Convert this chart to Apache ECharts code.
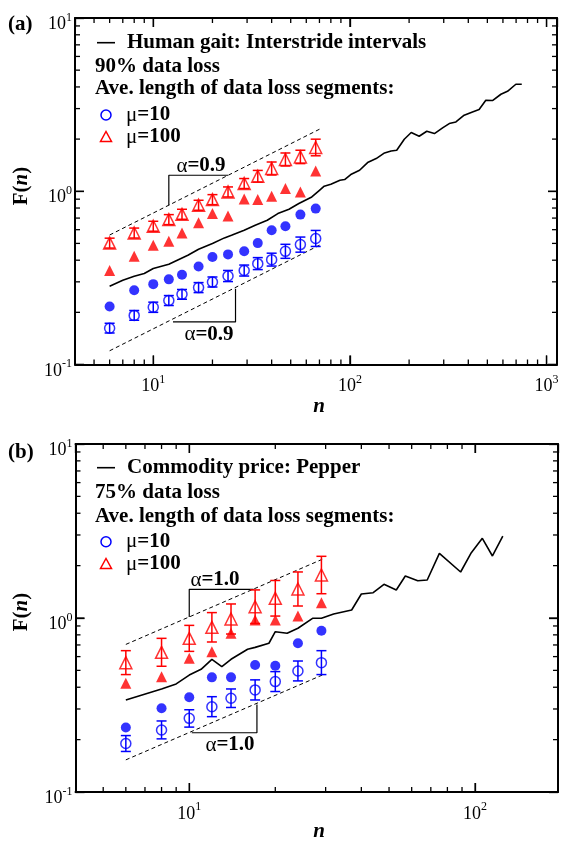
<!DOCTYPE html>
<html><head><meta charset="utf-8">
<script src="https://cdn.jsdelivr.net/npm/echarts@6/dist/echarts.min.js"></script>
<style>html,body{margin:0;padding:0;background:#fff}#c{width:562px;height:842px}</style>
</head><body><div id="c"></div>
<script>
// ---------- Panel (a): Human gait, 90% data loss ----------
const nA = [6, 8, 10, 12, 14, 17, 20, 24, 29, 34, 40, 47, 56, 67];
const aFilledCircle = [0.216, 0.268, 0.291, 0.310, 0.330, 0.368, 0.417, 0.432, 0.450, 0.502, 0.595, 0.628, 0.733, 0.794];
const aFilledTri = [0.349, 0.421, 0.488, 0.514, 0.574, 0.659, 0.743, 0.720, 0.903, 0.895, 0.936, 1.037, 0.991, 1.31];
const aOpenCircle = [0.162, 0.192, 0.214, 0.234, 0.254, 0.278, 0.299, 0.324, 0.349, 0.382, 0.403, 0.450, 0.492, 0.534];
const aOpenCircleLo = [0.152, 0.180, 0.200, 0.219, 0.238, 0.260, 0.280, 0.301, 0.324, 0.353, 0.370, 0.410, 0.445, 0.480];
const aOpenCircleHi = [0.173, 0.205, 0.229, 0.250, 0.271, 0.297, 0.320, 0.349, 0.375, 0.414, 0.439, 0.494, 0.544, 0.594];
const aOpenTri = [0.502, 0.574, 0.628, 0.686, 0.736, 0.830, 0.895, 0.991, 1.108, 1.221, 1.353, 1.525, 1.578, 1.789];
const aOpenTriLo = [0.470, 0.537, 0.588, 0.642, 0.689, 0.777, 0.837, 0.927, 1.037, 1.130, 1.241, 1.399, 1.444, 1.602];
const aOpenTriHi = [0.536, 0.613, 0.671, 0.733, 0.787, 0.887, 0.956, 1.059, 1.184, 1.319, 1.475, 1.663, 1.725, 1.998];
const nLineA = [6, 7, 8, 9, 10, 12, 13, 15, 17, 20, 23, 25, 29, 33, 38, 43, 49, 55, 64, 70, 74, 80, 89, 94, 101, 112, 123, 136, 150, 162, 173, 189, 205, 225, 246, 269, 296, 320, 346, 381, 420, 454, 491, 531, 586, 633, 698, 748];
const fLineA = [0.283, 0.306, 0.323, 0.335, 0.358, 0.379, 0.396, 0.427, 0.463, 0.499, 0.538, 0.557, 0.596, 0.637, 0.680, 0.743, 0.787, 0.849, 0.927, 1.013, 1.069, 1.098, 1.157, 1.168, 1.249, 1.322, 1.464, 1.544, 1.664, 1.708, 1.725, 1.996, 2.182, 2.077, 2.220, 2.153, 2.320, 2.459, 2.512, 2.746, 2.869, 2.962, 3.352, 3.338, 3.630, 3.776, 4.146, 4.146];
const aDashUpper = [[6, 0.559], [72, 2.317]];
const aDashLower = [[6, 0.120], [72, 0.496]];
const aBracketUpper = [[12, 0.831], [12, 1.237], [24.0, 1.237]];
const aBracketLower = [[12.6, 0.176], [26.2, 0.176], [26.2, 0.274]];

// ---------- Panel (b): Commodity price Pepper, 75% data loss ----------
const nB = [6, 8, 10, 12, 14, 17, 20, 24, 29];
const bFilledCircle = [0.235, 0.303, 0.350, 0.456, 0.456, 0.537, 0.532, 0.716, 0.845];
const bFilledTri = [0.421, 0.460, 0.587, 0.640, 0.817, 0.974, 0.974, 1.027, 1.224];
const bOpenCircle = [0.190, 0.227, 0.265, 0.309, 0.346, 0.386, 0.431, 0.496, 0.554];
const bOpenCircleLo = [0.171, 0.202, 0.236, 0.271, 0.306, 0.338, 0.378, 0.435, 0.473];
const bOpenCircleHi = [0.211, 0.256, 0.297, 0.353, 0.391, 0.441, 0.492, 0.566, 0.649];
const bOpenTri = [0.554, 0.635, 0.764, 0.884, 0.987, 1.161, 1.298, 1.468, 1.766];
const bOpenTriLo = [0.473, 0.528, 0.643, 0.728, 0.809, 0.930, 1.026, 1.172, 1.379];
const bOpenTriHi = [0.649, 0.764, 0.907, 1.074, 1.204, 1.450, 1.643, 1.839, 2.262];
const nLineB = [6, 8, 9, 10, 11, 12, 13, 14, 16, 17, 19, 20, 22, 24, 27, 29, 32, 37, 40, 44, 48, 53, 57, 63, 68, 75, 89, 97, 106, 115, 125];
const fLineB = [0.338, 0.391, 0.418, 0.470, 0.507, 0.579, 0.525, 0.579, 0.661, 0.678, 0.716, 0.834, 0.817, 0.873, 0.996, 0.996, 1.054, 1.112, 1.374, 1.398, 1.562, 1.448, 1.743, 1.638, 1.654, 2.354, 1.838, 2.373, 2.871, 2.272, 2.959];
const bDashUpper = [[6, 0.705], [29.2, 2.175]];
const bDashLower = [[6, 0.153], [29.2, 0.470]];
const bBracketUpper = [[10, 1.013], [10, 1.462], [16.8, 1.462]];
const bBracketLower = [[10.2, 0.219], [17.25, 0.219], [17.25, 0.318]];

// ---------- Axes ----------
const xRangeA = [4, 1130];
const xRangeB = [4, 195];
const yRange = [0.1, 10];
const xMajorA = [10, 100, 1000];
const xMinorA = [5, 6, 7, 8, 9, 20, 30, 40, 50, 60, 70, 80, 90, 200, 300, 400, 500, 600, 700, 800, 900];
const xMajorB = [10, 100];
const xMinorB = [5, 6, 7, 8, 9, 20, 30, 40, 50, 60, 70, 80, 90];
const yMajor = [0.1, 1, 10];
const yMinor = [0.2, 0.3, 0.4, 0.5, 0.6, 0.7, 0.8, 0.9, 2, 3, 4, 5, 6, 7, 8, 9];

const FONT = 'Liberation Serif';
const BLUE = '#0000ff', RED = '#ff0000';
const GRIDS = [
  { left: 75, top: 18, width: 482, height: 346.5 },
  { left: 75.5, top: 444, width: 482.5, height: 348 }
];

const pts = (xs, ys) => xs.map((x, i) => [x, ys[i]]);
const powFmt = v => {
  const e = Math.round(Math.log10(v));
  if (Math.abs(Math.pow(10, e) - v) / v > 1e-6) return '';
  return '{b|10}{s|' + e + '}';
};
const tickRich = () => ({
  b: { fontFamily: FONT, fontSize: 18, lineHeight: 26, color: '#000' },
  s: { fontFamily: FONT, fontSize: 12, lineHeight: 12, verticalAlign: 'top', color: '#000' }
});

function axesSet(kind, grid, range) {
  const base = () => ({ type: 'log', logBase: 10, gridIndex: grid, min: range[0], max: range[1], splitLine: { show: false },
    axisTick: { show: true, inside: true, length: 9, lineStyle: { color: '#000', width: 1.3 } },
    axisLine: { show: true, onZero: false, lineStyle: { color: '#000', width: 2 } } });
  const label = kind === 'x'
    ? { show: true, formatter: powFmt, rich: tickRich(), margin: 9, color: '#000', showMinLabel: false, showMaxLabel: false }
    : { show: true, formatter: powFmt, rich: tickRich(), margin: 3, color: '#000', padding: [13, 0, 0, 0] };
  return [
    { ...base(), position: kind === 'x' ? 'bottom' : 'left', axisLabel: label },
    { ...base(), position: kind === 'x' ? 'top' : 'right', axisLabel: { show: false } }
  ];
}

function ln(ai, data, type, width, z) {
  return { type: 'line', xAxisIndex: ai, yAxisIndex: ai, data, symbol: 'none', silent: true, z: z || 2,
    lineStyle: { color: '#000', width, type } };
}
function sc(ai, ns, fs, symbol, size, color, open) {
  return { type: 'scatter', xAxisIndex: ai, yAxisIndex: ai, data: pts(ns, fs), symbol, symbolSize: size, silent: true, z: 5,
    itemStyle: open ? { color: 'rgba(255,255,255,0)', borderColor: color, borderWidth: 1.5 } : { color } };
}
function err(ai, ns, lo, hi, color, cap) {
  return { type: 'custom', xAxisIndex: ai, yAxisIndex: ai, silent: true, z: 4,
    data: ns.map((n, i) => [n, lo[i], hi[i]]),
    encode: { x: 0, y: [1, 2] },
    renderItem: (p, api) => {
      const a = api.coord([api.value(0), api.value(2)]);
      const b = api.coord([api.value(0), api.value(1)]);
      const st = () => ({ stroke: color, lineWidth: 1.5 });
      return { type: 'group', children: [
        { type: 'line', shape: { x1: a[0], y1: a[1], x2: b[0], y2: b[1] }, style: st() },
        { type: 'line', shape: { x1: a[0] - cap, y1: a[1], x2: a[0] + cap, y2: a[1] }, style: st() },
        { type: 'line', shape: { x1: b[0] - cap, y1: b[1], x2: b[0] + cap, y2: b[1] }, style: st() }
      ] };
    } };
}

function panelSeries(ai, d) {
  return [
    ln(ai, d.dashU, [4, 3], 1), ln(ai, d.dashL, [4, 3], 1),
    ln(ai, d.brU, 'solid', 1.2), ln(ai, d.brL, 'solid', 1.2),
    ln(ai, pts(d.nLine, d.fLine), 'solid', 1.6, 3),
    err(ai, d.n, d.ocLo, d.ocHi, BLUE, 5),
    err(ai, d.n, d.otLo, d.otHi, RED, 5),
    sc(ai, d.n, d.fc, 'circle', 10, BLUE, false),
    sc(ai, d.n, d.ft, 'triangle', 11, RED, false),
    sc(ai, d.n, d.oc, 'circle', 10, BLUE, true),
    sc(ai, d.n, d.ot, 'triangle', 12, RED, true)
  ];
}

const txtRich = () => ({
  b: { fontFamily: FONT, fontSize: 21, fontWeight: 'bold', fill: '#000', color: '#000' },
  g: { fontFamily: FONT, fontSize: 21, fontWeight: 'normal', fill: '#000', color: '#000' },
  i: { fontFamily: FONT, fontSize: 21, fontWeight: 'bold', fontStyle: 'italic', fill: '#000', color: '#000' }
});
function T(x, y, text, align, extra) {
  return Object.assign({ type: 'text', x, y, silent: true, z: 10,
    style: { text, rich: txtRich(), font: 'bold 21px "' + FONT + '"', fill: '#000', align: align || 'left', verticalAlign: 'middle' } }, extra || {});
}
function legendBlock(ys, title, loss) {
  return [
    { type: 'line', silent: true, z: 10, shape: { x1: 97, y1: ys[0], x2: 115, y2: ys[0] }, style: { stroke: '#000', lineWidth: 1.6 } },
    T(127, ys[0], '{b|' + title + '}'),
    T(95, ys[1], '{b|' + loss + '}'),
    T(95, ys[2], '{b|Ave. length of data loss segments:}'),
    { type: 'circle', silent: true, z: 10, shape: { cx: 106, cy: ys[3], r: 5 }, style: { fill: 'none', stroke: BLUE, lineWidth: 1.5 } },
    T(126, ys[3], '{g|μ}{b|=10}'),
    { type: 'polygon', silent: true, z: 10, shape: { points: [[100.5, ys[4] + 4.5], [111.5, ys[4] + 4.5], [106, ys[4] - 5.5]] }, style: { fill: 'none', stroke: RED, lineWidth: 1.5 } },
    T(126, ys[4], '{g|μ}{b|=100}')
  ];
}
const baseGraphic = () => [
  T(8, 25, '{b|(a)}'),
  T(8, 453, '{b|(b)}'),
  ...legendBlock([42.7, 66.7, 88.5, 115, 137], 'Human gait: Interstride intervals', '90% data loss'),
  ...legendBlock([467.7, 492.7, 516.5, 541.7, 564], 'Commodity price: Pepper', '75% data loss'),
  T(201, 166, '{g|α}{b|=0.9}', 'center'),
  T(209, 334.5, '{g|α}{b|=0.9}', 'center'),
  T(215, 580, '{g|α}{b|=1.0}', 'center'),
  T(230, 745, '{g|α}{b|=1.0}', 'center'),
  T(21.5, 186, '{b|F(}{i|n}{b|)}', 'center', { rotation: Math.PI / 2 }),
  T(21.5, 612, '{b|F(}{i|n}{b|)}', 'center', { rotation: Math.PI / 2 }),
  T(319, 407, '{i|n}', 'center'),
  T(319, 832, '{i|n}', 'center')
];

const buildOption = extraGraphic => ({
  animation: false,
  backgroundColor: '#fff',
  grid: GRIDS.map(g => ({ ...g })),
  xAxis: [...axesSet('x', 0, xRangeA), ...axesSet('x', 1, xRangeB)],
  yAxis: [...axesSet('y', 0, yRange), ...axesSet('y', 1, yRange)],
  series: [
    ...panelSeries(0, { dashU: aDashUpper, dashL: aDashLower, brU: aBracketUpper, brL: aBracketLower,
      nLine: nLineA, fLine: fLineA, n: nA, fc: aFilledCircle, ft: aFilledTri, oc: aOpenCircle, ot: aOpenTri,
      ocLo: aOpenCircleLo, ocHi: aOpenCircleHi, otLo: aOpenTriLo, otHi: aOpenTriHi }),
    ...panelSeries(2, { dashU: bDashUpper, dashL: bDashLower, brU: bBracketUpper, brL: bBracketLower,
      nLine: nLineB, fLine: fLineB, n: nB, fc: bFilledCircle, ft: bFilledTri, oc: bOpenCircle, ot: bOpenTri,
      ocLo: bOpenCircleLo, ocHi: bOpenCircleHi, otLo: bOpenTriLo, otHi: bOpenTriHi })
  ],
  graphic: { elements: [...baseGraphic(), ...extraGraphic] }
});

// Minor/major tick marks (inward, all four sides): positions along each axis come from
// the axis scale of an identically laid-out helper chart.
function tickGraphics(ch, ai, g, xMaj, xMin) {
  const out = [];
  const add = (x1, y1, x2, y2) => {
    if ([x1, y1, x2, y2].every(Number.isFinite)) {
      out.push({ type: 'line', shape: { x1, y1, x2, y2 }, style: { stroke: '#000', lineWidth: 1.3 } });
    }
  };
  const num = r => Array.isArray(r) ? NaN : r;
  const bottom = g.top + g.height, top = g.top, left = g.left, right = g.left + g.width;
  [[xMaj, 9], [xMin, 5]].forEach(([vals, len]) => vals.forEach(v => {
    const x = num(ch.convertToPixel({ xAxisIndex: ai }, v));
    add(x, bottom, x, bottom - len);
    add(x, top, x, top + len);
  }));
  [[yMajor, 9], [yMinor, 5]].forEach(([vals, len]) => vals.forEach(v => {
    const y = num(ch.convertToPixel({ yAxisIndex: ai }, v));
    add(left, y, left + len, y);
    add(right, y, right - len, y);
  }));
  return out;
}

let ticks = [];
try {
  const tmpDiv = document.createElement('div');
  tmpDiv.style.cssText = 'position:absolute;left:-3000px;top:0;width:562px;height:842px';
  document.body.appendChild(tmpDiv);
  const tmp = echarts.init(tmpDiv, null, { renderer: 'canvas', width: 562, height: 842 });
  tmp.setOption(buildOption([]));
  ticks = [...tickGraphics(tmp, 0, GRIDS[0], xMajorA, xMinorA), ...tickGraphics(tmp, 2, GRIDS[1], xMajorB, xMinorB)];
  tmp.dispose();
  tmpDiv.remove();
} catch (e) { ticks = []; }

const chart = echarts.init(document.getElementById('c'), null, { renderer: 'canvas' });
chart.setOption(buildOption(ticks));
</script>
</body></html>
